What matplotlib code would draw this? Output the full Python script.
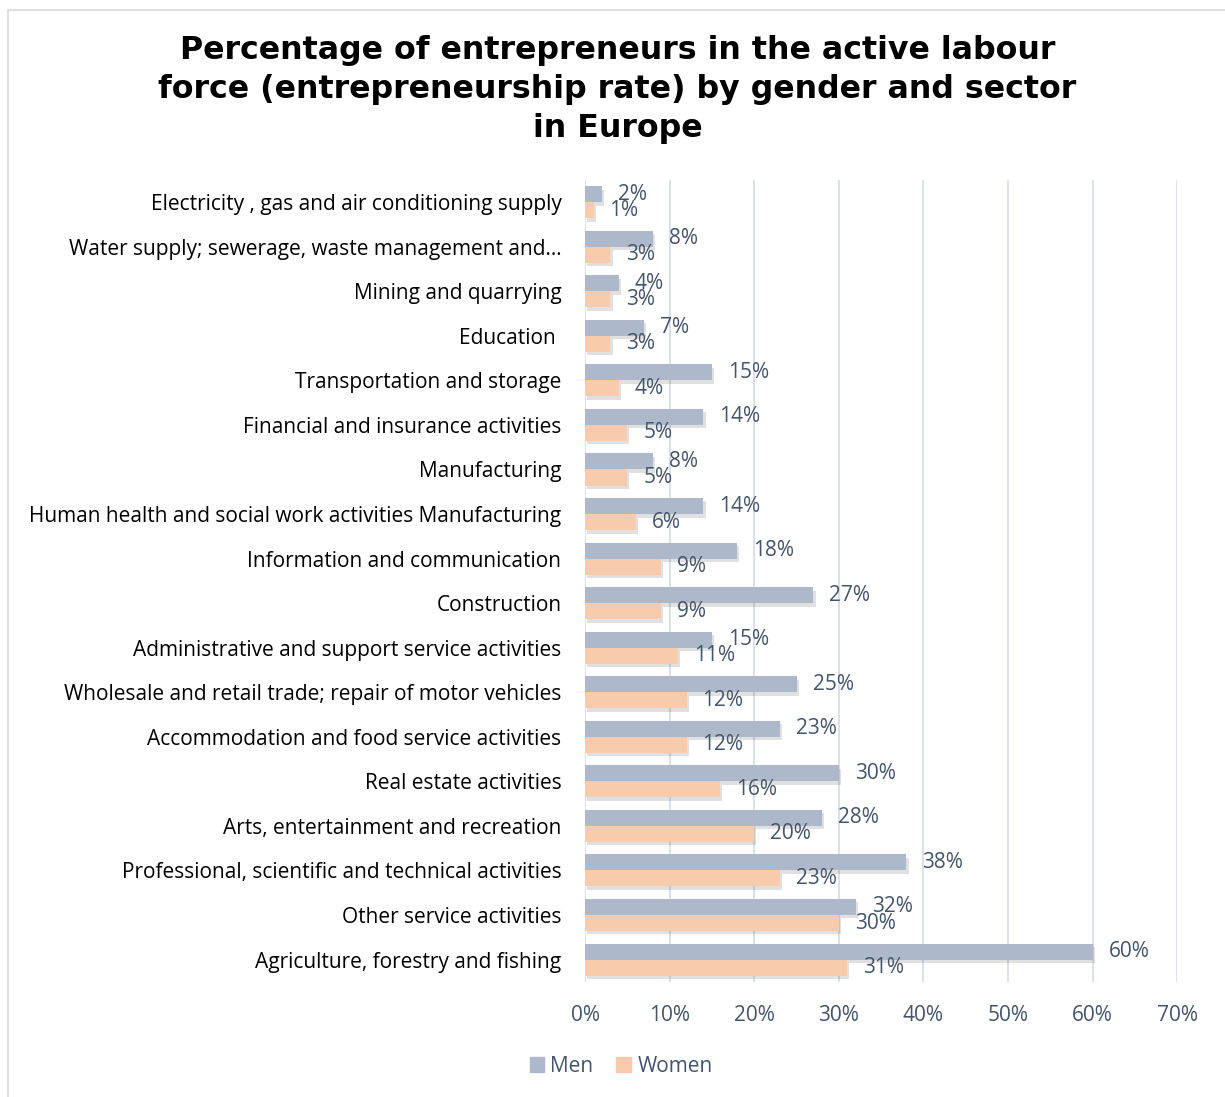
"""Horizontal grouped bar chart of entrepreneurship rate by gender and sector in Europe."""
import matplotlib.pyplot as plt
import matplotlib.patheffects as pe
from matplotlib.patches import Rectangle
import numpy as np

sectors = [
    "Electricity , gas and air conditioning supply",
    "Water supply; sewerage, waste management and\u2026",
    "Mining and quarrying",
    "Education ",
    "Transportation and storage",
    "Financial and insurance activities",
    "Manufacturing",
    "Human health and social work activities Manufacturing",
    "Information and communication",
    "Construction",
    "Administrative and support service activities",
    "Wholesale and retail trade; repair of motor vehicles",
    "Accommodation and food service activities",
    "Real estate activities",
    "Arts, entertainment and recreation",
    "Professional, scientific and technical activities",
    "Other service activities",
    "Agriculture, forestry and fishing",
]
men = [2, 8, 4, 7, 15, 14, 8, 14, 18, 27, 15, 25, 23, 30, 28, 38, 32, 60]
women = [1, 3, 3, 3, 4, 5, 5, 6, 9, 9, 11, 12, 12, 16, 20, 23, 30, 31]
x_ticks = [0, 10, 20, 30, 40, 50, 60, 70]

men_color = "#ADB9CA"
women_color = "#F8CBAD"
label_color = "#44546A"
font = ["Open Sans", "DejaVu Sans"]

fig = plt.figure(figsize=(12.25, 10.97), dpi=100)
ax = fig.add_axes([0.4776, 0.105, 0.4833, 0.731])

# thin frame around the chart area
fig.patches.append(Rectangle((8 / 1225, -0.1), 1.2, 1.1 - 10 / 1097,
                             transform=fig.transFigure, fill=False,
                             edgecolor="#D9D9D9", linewidth=1.2))

y = np.arange(len(sectors))
h = 0.36
shadow = [pe.SimplePatchShadow(offset=(1.5, -2.5), shadow_rgbFace="#000000", alpha=0.12), pe.Normal()]
bars_m = ax.barh(y - h / 2, men, height=h, color=men_color, label="Men", zorder=3)
bars_w = ax.barh(y + h / 2, women, height=h, color=women_color, label="Women", zorder=3)
for b in list(bars_m) + list(bars_w):
    b.set_path_effects(shadow)

for bars, vals in ((bars_m, men), (bars_w, women)):
    for b, v in zip(bars, vals):
        ax.annotate(f"{v}%", (v, b.get_y() + b.get_height() / 2),
                    xytext=(16, 0), textcoords="offset pixels",
                    ha="left", va="center", fontsize=15, color=label_color,
                    family=font, zorder=4)

ax.set_xlim(0, 70)
ax.set_ylim(len(sectors) - 0.5, -0.5)
ax.set_xticks(x_ticks)
ax.set_xticklabels([f"{t}%" for t in x_ticks], color=label_color, fontsize=15, family=font)
ax.set_yticks(y)
ax.set_yticklabels(sectors, fontsize=15, color="#000000", family=font)
ax.tick_params(axis="both", length=0)
ax.tick_params(axis="y", pad=17)
ax.tick_params(axis="x", pad=17)
ax.grid(axis="x", color="#D6DCE5", linewidth=1.2, zorder=0)
for s in ax.spines.values():
    s.set_visible(False)

fig.text(0.504, 0.968,
         "Percentage of entrepreneurs in the active labour\n"
         "force (entrepreneurship rate) by gender and sector\n"
         "in Europe",
         ha="center", va="top", fontsize=22.8, fontweight="bold",
         linespacing=1.33, family="DejaVu Sans")

leg = fig.legend(handles=[Rectangle((0, 0), 1, 1, color=men_color),
                          Rectangle((0, 0), 1, 1, color=women_color)],
                 labels=["Men", "Women"],
                 loc="center", bbox_to_anchor=(0.507, 0.028), ncol=2, frameon=False,
                 prop={"family": font, "size": 15}, handlelength=0.7, handleheight=0.7,
                 handletextpad=0.3, columnspacing=1.1)
for t in leg.get_texts():
    t.set_color(label_color)

fig.savefig("out.png", dpi=100)
